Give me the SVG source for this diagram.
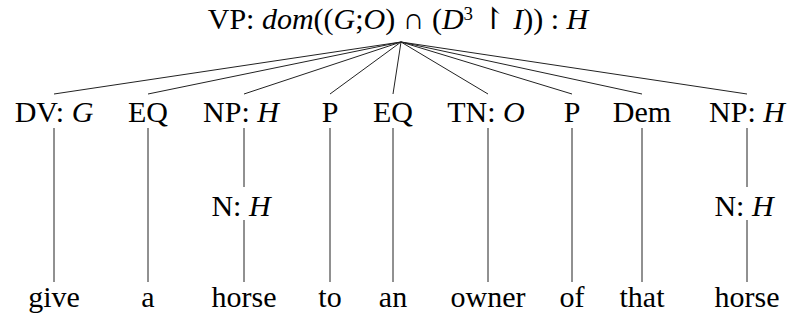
<svg xmlns="http://www.w3.org/2000/svg" width="791" height="322" viewBox="0 0 791 322" font-family="'Liberation Serif', 'DejaVu Serif', serif">
<style>
text{font-size:30px;fill:#000;text-anchor:middle}
.i{font-style:italic}
.sup{font-size:19px}
#connectors line{stroke:#222;stroke-width:1;fill:none}
</style>
<rect width="791" height="322" fill="#fff"/>
<g id="connectors">
<line x1="401" y1="42" x2="54" y2="94"/>
<line x1="401" y1="42" x2="148" y2="94"/>
<line x1="401" y1="42" x2="244" y2="94"/>
<line x1="401" y1="42" x2="330" y2="94"/>
<line x1="401" y1="42" x2="393" y2="94"/>
<line x1="401" y1="42" x2="488" y2="94"/>
<line x1="401" y1="42" x2="572" y2="94"/>
<line x1="401" y1="42" x2="642" y2="94"/>
<line x1="401" y1="42" x2="747" y2="94"/>
<line x1="54" y1="128" x2="54" y2="282"/>
<line x1="148" y1="128" x2="148" y2="282"/>
<line x1="244" y1="128" x2="244" y2="187"/>
<line x1="244" y1="220" x2="244" y2="282"/>
<line x1="330" y1="128" x2="330" y2="282"/>
<line x1="393" y1="128" x2="393" y2="282"/>
<line x1="488" y1="128" x2="488" y2="282"/>
<line x1="572" y1="128" x2="572" y2="282"/>
<line x1="642" y1="128" x2="642" y2="282"/>
<line x1="747" y1="128" x2="747" y2="187"/>
<line x1="747" y1="220" x2="747" y2="282"/>
</g>
<g id="vp"><text x="398" y="29" xml:space="preserve">VP: <tspan class="i">dom</tspan>((<tspan class="i">G</tspan>;<tspan class="i">O</tspan>) ∩ (<tspan class="i">D</tspan><tspan class="sup" dy="-9">3</tspan><tspan dy="9"> ↾ </tspan><tspan class="i">I</tspan>)) : <tspan class="i">H</tspan></text></g>
<g id="dv"><text x="54" y="122">DV: <tspan class="i">G</tspan></text></g>
<g id="eq1"><text x="148" y="122">EQ</text></g>
<g id="np1"><text x="241" y="122">NP: <tspan class="i">H</tspan></text></g>
<g id="p1"><text x="330" y="122">P</text></g>
<g id="eq2"><text x="393" y="122">EQ</text></g>
<g id="tn"><text x="486" y="122">TN: <tspan class="i">O</tspan></text></g>
<g id="p2"><text x="572" y="122">P</text></g>
<g id="dem"><text x="642" y="122">Dem</text></g>
<g id="np2"><text x="747" y="122">NP: <tspan class="i">H</tspan></text></g>
<g id="n1"><text x="241" y="216">N: <tspan class="i">H</tspan></text></g>
<g id="n2"><text x="744" y="216">N: <tspan class="i">H</tspan></text></g>
<g id="w-give"><text x="54" y="307">give</text></g>
<g id="w-a"><text x="148" y="307">a</text></g>
<g id="w-horse1"><text x="244" y="307">horse</text></g>
<g id="w-to"><text x="330" y="307">to</text></g>
<g id="w-an"><text x="393" y="307">an</text></g>
<g id="w-owner"><text x="488" y="307">owner</text></g>
<g id="w-of"><text x="572" y="307">of</text></g>
<g id="w-that"><text x="642" y="307">that</text></g>
<g id="w-horse2"><text x="747" y="307">horse</text></g>
</svg>
